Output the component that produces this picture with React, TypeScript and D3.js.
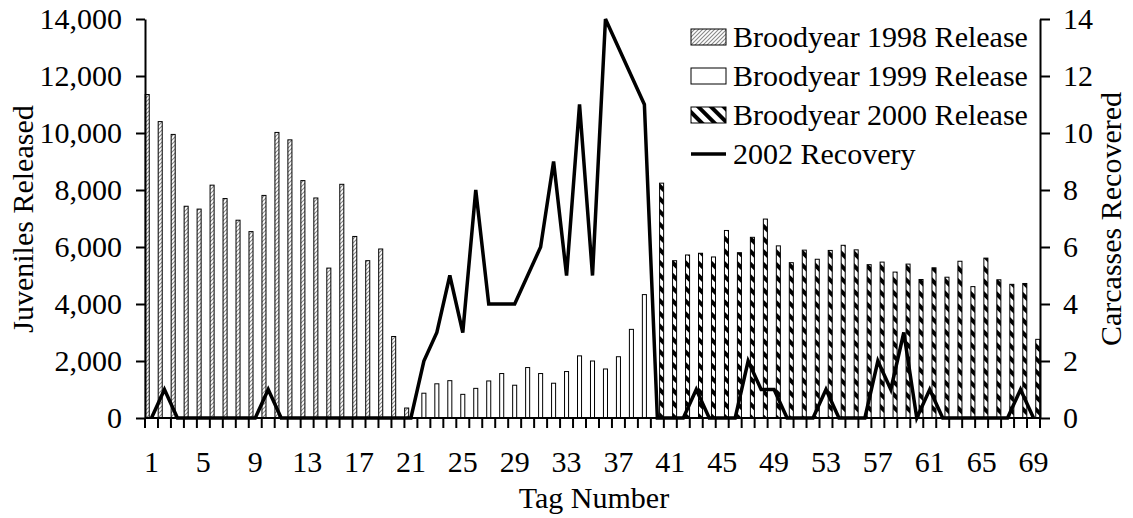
import React, { useRef, useEffect } from 'react';
import * as d3 from 'd3';

// Tag numbers 1..69, split by broodyear
const tags1998 = d3.range(1, 22);
const release1998 = [
  11350, 10400, 9950, 7430, 7330, 8170, 7700, 6940, 6540, 7810,
  10020, 9760, 8330, 7720, 5260, 8200, 6370, 5520, 5930, 2860, 350,
];
const tags1999 = d3.range(22, 40);
const release1999 = [
  870, 1200, 1310, 830, 1040, 1300, 1560, 1150, 1770, 1560,
  1220, 1630, 2180, 2000, 1720, 2150, 3110, 4330,
];
const tags2000 = d3.range(40, 70);
const release2000 = [
  8240, 5520, 5720, 5780, 5650, 6580, 5800, 6340, 6980, 6040,
  5450, 5890, 5570, 5880, 6060, 5900, 5380, 5470, 5120, 5400,
  4860, 5270, 4940, 5500, 4610, 5610, 4850, 4690, 4720, 2760,
];
const recovery2002 = [
  0, 1, 0, 0, 0, 0, 0, 0, 0, 1,
  0, 0, 0, 0, 0, 0, 0, 0, 0, 0,
  0, 2, 3, 5, 3, 8, 4, 4, 4, 5,
  6, 9, 5, 11, 5, 14, 13, 12, 11, 0,
  0, 0, 1, 0, 0, 0, 2, 1, 1, 0,
  0, 0, 1, 0, 0, 0, 2, 1, 3, 0,
  1, 0, 0, 0, 0, 0, 0, 1, 0,
];
const allTags = d3.range(1, 70);
const seriesKeys = ['1998', '1999', '2000'];
const leftTicks = [0, 2000, 4000, 6000, 8000, 10000, 12000, 14000];
const rightTicks = [0, 2, 4, 6, 8, 10, 12, 14];
const legendItems = [
  'Broodyear 1998 Release',
  'Broodyear 1999 Release',
  'Broodyear 2000 Release',
  '2002 Recovery',
];

const FONT = '"Liberation Serif", "Times New Roman", serif';
const FS = 30;

const App: React.FC = () => {
  const svgRef = useRef<SVGSVGElement | null>(null);

  useEffect(() => {
    const width = 1133;
    const height = 518;
    const left = 145;
    const right = 1040;
    const top = 19;
    const bottom = 418;

    const root = d3.select(svgRef.current);
    root.selectAll('*').remove();
    root.attr('width', width).attr('height', height);

    const defs = root.append('defs');
    const p98 = defs
      .append('pattern')
      .attr('id', 'hatch98')
      .attr('patternUnits', 'userSpaceOnUse')
      .attr('width', 4)
      .attr('height', 4);
    p98.append('rect').attr('width', 4).attr('height', 4).attr('fill', '#fff');
    p98
      .append('path')
      .attr('d', 'M-1,1 l2,-2 M0,4 l4,-4 M3,5 l2,-2')
      .attr('stroke', '#888')
      .attr('stroke-width', 1.1);

    // bold downward diagonal for 2000
    const p00 = defs
      .append('pattern')
      .attr('id', 'hatch00')
      .attr('patternUnits', 'userSpaceOnUse')
      .attr('width', 9)
      .attr('height', 9)
      .attr('patternTransform', 'rotate(-45)');
    p00.append('rect').attr('width', 9).attr('height', 9).attr('fill', '#fff');
    p00
      .append('rect')
      .attr('x', 0)
      .attr('y', 0)
      .attr('width', 4)
      .attr('height', 9)
      .attr('fill', '#000');

    const fills: Record<string, string> = {
      '1998': 'url(#hatch98)',
      '1999': '#fff',
      '2000': 'url(#hatch00)',
    };

    const x = d3.scaleBand<number>().domain(allTags).range([left, right]).padding(0);
    const xs = d3
      .scaleBand<string>()
      .domain(seriesKeys)
      .range([0, x.bandwidth()])
      .paddingInner(0.05)
      .paddingOuter(0.05);
    const yL = d3.scaleLinear().domain([0, 14000]).range([bottom, top]);
    const yR = d3.scaleLinear().domain([0, 14]).range([bottom, top]);

    const svg = root.append('g');

    const bars = [
      { key: '1998', tags: tags1998, values: release1998 },
      { key: '1999', tags: tags1999, values: release1999 },
      { key: '2000', tags: tags2000, values: release2000 },
    ];

    bars.forEach((s) => {
      svg
        .append('g')
        .selectAll('rect')
        .data(s.tags.map((t, i) => ({ tag: t, value: s.values[i] })))
        .enter()
        .append('rect')
        .attr('x', (d) => x(d.tag)! + xs(s.key)!)
        .attr('width', xs.bandwidth())
        .attr('y', (d) => yL(d.value))
        .attr('height', (d) => bottom - yL(d.value))
        .attr('fill', fills[s.key])
        .attr('stroke', '#000')
        .attr('stroke-width', 1);
    });

    // recovery line on the right axis
    svg
      .append('path')
      .datum(recovery2002.map((v, i) => [allTags[i], v] as [number, number]))
      .attr('fill', 'none')
      .attr('stroke', '#000')
      .attr('stroke-width', 3.5)
      .attr('stroke-linejoin', 'miter')
      .attr(
        'd',
        d3
          .line<[number, number]>()
          .x((d) => x(d[0])! + x.bandwidth() / 2)
          .y((d) => yR(d[1]))
      );

    // left axis
    const axL = svg
      .append('g')
      .attr('transform', `translate(${left},0)`)
      .call(
        d3
          .axisLeft(yL)
          .tickValues(leftTicks)
          .tickFormat(d3.format(','))
          .tickSize(9)
          .tickSizeOuter(0)
          .tickPadding(14)
      );

    // right axis
    const axR = svg
      .append('g')
      .attr('transform', `translate(${right},0)`)
      .call(
        d3
          .axisRight(yR)
          .tickValues(rightTicks)
          .tickSize(10)
          .tickSizeOuter(0)
          .tickPadding(13)
      );

    [axL, axR].forEach((ax) => {
      ax.select('.domain').attr('stroke-width', 2).attr('stroke', '#000');
      ax.selectAll('.tick line').attr('stroke-width', 2).attr('stroke', '#000');
      ax.selectAll('text')
        .attr('font-family', FONT)
        .attr('font-size', FS)
        .attr('fill', '#000');
    });

    // x axis: ticks between categories, labels every 4th tag
    const xAx = svg.append('g');
    xAx
      .append('line')
      .attr('x1', left)
      .attr('x2', right)
      .attr('y1', bottom)
      .attr('y2', bottom)
      .attr('stroke', '#000')
      .attr('stroke-width', 2);
    const bounds = allTags.map((t) => x(t)!).concat([right]);
    xAx
      .selectAll('line.tk')
      .data(bounds)
      .enter()
      .append('line')
      .attr('class', 'tk')
      .attr('x1', (d) => d)
      .attr('x2', (d) => d)
      .attr('y1', bottom)
      .attr('y2', bottom + 10)
      .attr('stroke', '#000')
      .attr('stroke-width', 2);
    xAx
      .selectAll('text')
      .data(allTags.filter((t) => (t - 1) % 4 === 0))
      .enter()
      .append('text')
      .attr('x', (d) => x(d)! + x.bandwidth() / 2)
      .attr('y', 472)
      .attr('text-anchor', 'middle')
      .attr('font-family', FONT)
      .attr('font-size', FS)
      .text((d) => d);

    // axis titles
    svg
      .append('text')
      .attr('x', 594)
      .attr('y', 508)
      .attr('text-anchor', 'middle')
      .attr('font-family', FONT)
      .attr('font-size', FS)
      .text('Tag Number');
    svg
      .append('text')
      .attr('transform', 'translate(33,219) rotate(-90)')
      .attr('text-anchor', 'middle')
      .attr('font-family', FONT)
      .attr('font-size', FS)
      .text('Juveniles Released');
    svg
      .append('text')
      .attr('transform', 'translate(1121,219) rotate(-90)')
      .attr('text-anchor', 'middle')
      .attr('font-family', FONT)
      .attr('font-size', FS)
      .text('Carcasses Recovered');

    // legend
    const legend = svg.append('g').attr('transform', 'translate(691,0)');
    const rowY = [37, 76, 115, 154];
    legendItems.forEach((label, i) => {
      const g = legend.append('g').attr('transform', `translate(0,${rowY[i]})`);
      if (i < 3) {
        g.append('rect')
          .attr('x', 0)
          .attr('y', -8)
          .attr('width', 35)
          .attr('height', 16)
          .attr('fill', fills[seriesKeys[i]])
          .attr('stroke', '#000')
          .attr('stroke-width', 1);
      } else {
        g.append('line')
          .attr('x1', 0)
          .attr('x2', 35)
          .attr('y1', 0)
          .attr('y2', 0)
          .attr('stroke', '#000')
          .attr('stroke-width', 3.5);
      }
      g.append('text')
        .attr('x', 42)
        .attr('y', 10)
        .attr('font-family', FONT)
        .attr('font-size', FS)
        .text(label);
    });
  }, []);

  return (
    <svg
      ref={svgRef}
      style={{ position: 'absolute', left: 0, top: 0, background: '#fff' }}
    ></svg>
  );
};

export default App;
